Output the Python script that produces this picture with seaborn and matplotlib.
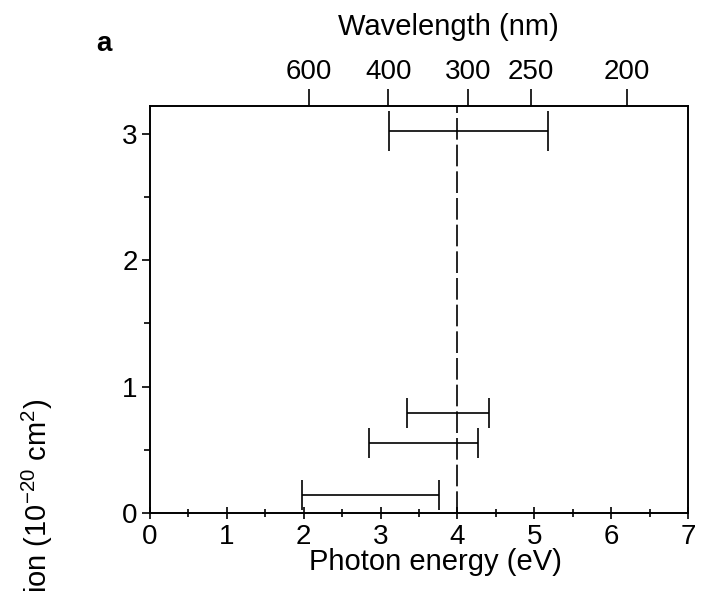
import numpy as np
import seaborn as sns
import matplotlib.pyplot as plt
from matplotlib.ticker import MultipleLocator

# Measured ranges (photon energy, eV) and cross-section values
energy_low = [3.11, 3.34, 2.85, 1.98]
energy_high = [5.18, 4.41, 4.27, 3.76]
cross_section = [3.02, 0.79, 0.55, 0.14]
cap_pts = [14.4, 10.8, 10.8, 10.8]

threshold_ev = 4.0
wavelength_ticks = [600, 400, 300, 250, 200]

sns.set_theme(style="ticks")
plt.rcParams["font.family"] = ["Liberation Sans", "DejaVu Sans"]
plt.rcParams["mathtext.default"] = "regular"
plt.rcParams["text.color"] = "black"
plt.rcParams["axes.labelcolor"] = "black"
plt.rcParams["xtick.color"] = "black"
plt.rcParams["ytick.color"] = "black"

fig = plt.figure(figsize=(7.16, 5.93), dpi=100)
ax = fig.add_axes([0.2095, 0.1349, 0.7515, 0.6863])

low = np.array(energy_low)
high = np.array(energy_high)
mid = (low + high) / 2
half = (high - low) / 2

for m, h, s, c in zip(mid, half, cross_section, cap_pts):
    ax.errorbar(m, s, xerr=h, fmt="none", ecolor="black",
                elinewidth=1.2, capsize=c, capthick=1.2)

ax.axvline(threshold_ev, color="black", lw=1.2, dashes=(13, 3))

ax.set_xlim(0, 7)
ax.set_ylim(0, 3.22)
ax.xaxis.set_major_locator(MultipleLocator(1))
ax.xaxis.set_minor_locator(MultipleLocator(0.5))
ax.yaxis.set_major_locator(MultipleLocator(1))
ax.yaxis.set_minor_locator(MultipleLocator(0.5))

for sp in ax.spines.values():
    sp.set_linewidth(1.4)
    sp.set_color("black")

ax.tick_params(axis="x", which="major", direction="inout", length=8,
               width=1.2, labelsize=20, pad=4)
ax.tick_params(axis="x", which="minor", direction="inout", length=6,
               width=1.2)
ax.tick_params(axis="y", which="major", direction="out", length=6,
               width=1.2, labelsize=20, pad=3)
ax.tick_params(axis="y", which="minor", direction="out", length=4,
               width=1.2)

ax.set_xlabel("Photon energy (eV)", fontsize=21)
ax.xaxis.set_label_coords(0.53, -0.085)

# Top axis: wavelength
ax2 = ax.twiny()
ax2.set_xlim(ax.get_xlim())
ax2.set_xticks([1240.0 / w for w in wavelength_ticks])
ax2.set_xticklabels([str(w) for w in wavelength_ticks])
ax2.tick_params(axis="x", direction="out", length=12, width=1.2,
                labelsize=20, pad=3)
ax2.set_xlabel("Wavelength (nm)", fontsize=21)
ax2.xaxis.set_label_coords(0.555, 1.175)
for sp in ax2.spines.values():
    sp.set_visible(False)

fig.text(0.135, 0.925, "a", fontsize=20, fontweight="bold",
         ha="left", va="center")

# y label runs off the bottom edge of the figure
fig.text(0.052, 0.327, r"Absorption cross-section (10$^{-20}$ cm$^{2}$)",
         rotation=90, fontsize=21, ha="center", va="top")

fig.savefig("out.png", dpi=100)
